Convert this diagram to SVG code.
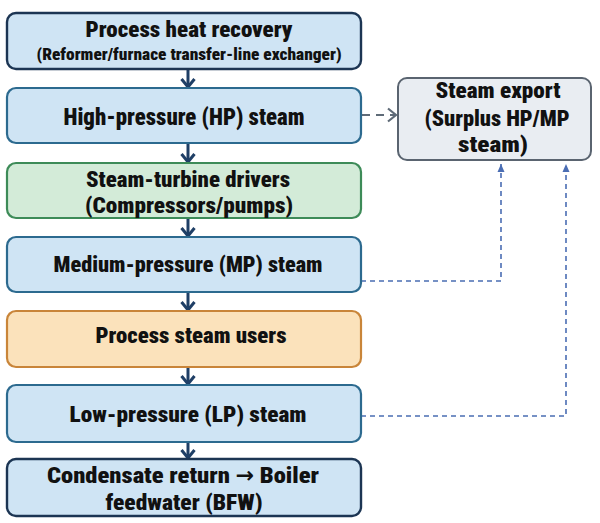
<svg xmlns="http://www.w3.org/2000/svg" width="600" height="523" viewBox="0 0 600 523">
<defs>
<style>
.t{font-family:"Liberation Sans Narrow","Roboto Condensed","DejaVu Sans Condensed",Roboto,"Liberation Sans",Arial,sans-serif;font-weight:900;fill:#111;text-anchor:middle}
.blue{fill:#cfe4f4;stroke:#2c6a8f;stroke-width:2.2}
.navy{fill:#cfe4f4;stroke:#1c3553;stroke-width:2.4}
.green{fill:#d3ebd8;stroke:#3d8b58;stroke-width:2.2}
.orange{fill:#fbe2bb;stroke:#c98539;stroke-width:2.2}
.grey{fill:#e9edf2;stroke:#5a6470;stroke-width:2}
.flow{stroke:#1f3f66;stroke-width:3;fill:none}
.exp{stroke:#4a6db3;stroke-width:1.6;fill:none;stroke-dasharray:5 4}
.hp{stroke:#5f6b78;stroke-width:2.2;fill:none;stroke-dasharray:8 6}
</style>
<marker id="down" markerUnits="userSpaceOnUse" viewBox="0 0 12 16" markerWidth="12" markerHeight="16" refX="10" refY="8" orient="auto">
<path d="M2,1.5 L10,8 L2,14.5" fill="none" stroke="#1f3f66" stroke-width="3"/>
</marker>
<marker id="grey" markerUnits="userSpaceOnUse" viewBox="0 0 12 16" markerWidth="12" markerHeight="16" refX="10" refY="8" orient="auto">
<path d="M2,1.5 L10,8 L2,14.5" fill="none" stroke="#5f6b78" stroke-width="2.2"/>
</marker>
<marker id="up" markerUnits="userSpaceOnUse" viewBox="0 0 10 10" markerWidth="10" markerHeight="10" refX="9" refY="5" orient="auto">
<path d="M1,1.5 L9,5 L1,8.5 Z" fill="#4a6db3"/>
</marker>
</defs>

<g id="connectors">
<line class="flow" x1="188" y1="69" x2="188" y2="87" marker-end="url(#down)"/>
<line class="flow" x1="188" y1="143" x2="188" y2="162" marker-end="url(#down)"/>
<line class="flow" x1="188" y1="218" x2="188" y2="236" marker-end="url(#down)"/>
<line class="flow" x1="188" y1="292" x2="188" y2="310" marker-end="url(#down)"/>
<line class="flow" x1="188" y1="367" x2="188" y2="384" marker-end="url(#down)"/>
<line class="flow" x1="188" y1="442" x2="188" y2="458" marker-end="url(#down)"/>
<line class="hp" x1="362" y1="115" x2="396" y2="115" marker-end="url(#grey)"/>
<polyline class="exp" points="361,281 501,281 501,164" marker-end="url(#up)"/>
<polyline class="exp" points="361,416 566,416 566,164" marker-end="url(#up)"/>
</g>

<g id="heat-recovery">
<rect class="navy" x="7" y="13" width="354" height="56" rx="9"/>
<text class="t" x="189" y="37" font-size="22.5" textLength="207" lengthAdjust="spacingAndGlyphs">Process heat recovery</text>
<text class="t" x="189" y="60" font-size="16" textLength="305" lengthAdjust="spacingAndGlyphs">(Reformer/furnace transfer-line exchanger)</text>
</g>

<g id="hp-steam">
<rect class="blue" x="7" y="88" width="354" height="55" rx="9"/>
<text class="t" x="184" y="125" font-size="24" textLength="241" lengthAdjust="spacingAndGlyphs">High-pressure (HP) steam</text>
</g>

<g id="turbine-drivers">
<rect class="green" x="7" y="163" width="354" height="55" rx="9"/>
<text class="t" x="188" y="187" font-size="22.5" textLength="204" lengthAdjust="spacingAndGlyphs">Steam-turbine drivers</text>
<text class="t" x="189" y="213" font-size="22.5" textLength="208" lengthAdjust="spacingAndGlyphs">(Compressors/pumps)</text>
</g>

<g id="mp-steam">
<rect class="blue" x="7" y="237" width="354" height="55" rx="9"/>
<text class="t" x="188" y="272" font-size="21.5" textLength="269" lengthAdjust="spacingAndGlyphs">Medium-pressure (MP) steam</text>
</g>

<g id="process-users">
<rect class="orange" x="7" y="311" width="354" height="56" rx="9"/>
<text class="t" x="191" y="343" font-size="21.5" textLength="191" lengthAdjust="spacingAndGlyphs">Process steam users</text>
</g>

<g id="lp-steam">
<rect class="blue" x="7" y="385" width="354" height="57" rx="9"/>
<text class="t" x="188" y="422" font-size="22.5" textLength="237" lengthAdjust="spacingAndGlyphs">Low-pressure (LP) steam</text>
</g>

<g id="condensate">
<rect class="navy" x="7" y="459" width="354" height="57" rx="9"/>
<text class="t" x="183" y="483" font-size="22.5" textLength="272" lengthAdjust="spacingAndGlyphs">Condensate return  →  Boiler</text>
<text class="t" x="184" y="510" font-size="22.5" textLength="157" lengthAdjust="spacingAndGlyphs">feedwater (BFW)</text>
</g>

<g id="steam-export">
<rect class="grey" x="398" y="78" width="193" height="82" rx="9"/>
<text class="t" x="498" y="98" font-size="21.5" textLength="125" lengthAdjust="spacingAndGlyphs">Steam export</text>
<text class="t" x="497" y="126" font-size="21.5" textLength="145" lengthAdjust="spacingAndGlyphs">(Surplus HP/MP</text>
<text class="t" x="493" y="152" font-size="21.5" textLength="70" lengthAdjust="spacingAndGlyphs">steam)</text>
</g>
</svg>
